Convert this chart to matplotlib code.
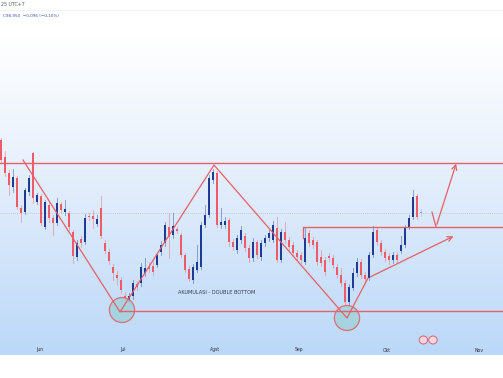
import numpy as np
import matplotlib.pyplot as plt
from matplotlib.colors import LinearSegmentedColormap
from matplotlib.patches import Ellipse

# daily candles (price units), oldest first
opens = [215, 198, 182, 168, 177, 147, 143, 163, 202, 153, 159, 128, 150, 137, 132, 151, 143, 142,
         123, 98, 116, 113, 139, 139, 131, 147, 112, 103, 88, 80, 75, 59, 53, 59, 71, 72, 82, 88,
         89, 90, 103, 112, 128, 120, 126, 120, 100, 86, 75, 85, 88, 130, 140, 175, 182, 130, 130,
         135, 113, 105, 115, 119, 107, 97, 113, 98, 112, 117, 115, 127, 95, 123, 115, 110, 102, 100,
         93, 122, 115, 113, 98, 95, 99, 97, 88, 80, 72, 53, 67, 82, 93, 80, 77, 100, 125, 112, 103,
         99, 95, 100, 104, 110, 128, 138, 159, 142]
highs = [217, 204, 185, 186, 179, 150, 167, 180, 203, 162, 161, 155, 152, 140, 157, 153, 155, 144,
         125, 115, 119, 141, 142, 145, 140, 159, 115, 106, 91, 84, 78, 63, 62, 75, 74, 92, 97, 93,
         93, 102, 114, 133, 142, 142, 128, 122, 102, 89, 91, 110, 133, 150, 180, 186, 184, 147, 138,
         137, 116, 120, 129, 122, 110, 117, 115, 115, 120, 125, 134, 138, 126, 133, 118, 113, 105, 103,
         128, 125, 118, 115, 105, 98, 102, 100, 91, 87, 75, 71, 87, 97, 96, 83, 103, 129, 128, 115, 106,
         102, 103, 103, 119, 130, 140, 165, 161, 146]
lows = [192, 179, 160, 163, 146, 133, 141, 160, 152, 151, 130, 126, 133, 120, 130, 142, 140, 125,
        92, 95, 108, 111, 135, 127, 129, 117, 102, 91, 75, 70, 62, 52, 51, 56, 65, 69, 79, 83,
        80, 88, 100, 109, 97, 117, 122, 98, 83, 74, 72, 83, 86, 128, 138, 172, 128, 127, 127,
        109, 105, 102, 112, 104, 93, 94, 97, 95, 109, 114, 113, 93, 93, 112, 105, 99, 95, 92,
        91, 109, 107, 90, 89, 80, 94, 87, 77, 69, 49, 50, 65, 79, 77, 73, 75, 98, 110, 100, 94,
        91, 92, 92, 102, 108, 126, 136, 136, 139]
closes = [195, 182, 170, 178, 148, 142, 165, 177, 157, 160, 132, 153, 137, 132, 152, 145, 146, 128,
          99, 112, 112, 137, 138, 136, 136, 119, 104, 94, 82, 77, 65, 55, 59, 72, 68, 88, 87, 86,
          83, 100, 110, 130, 118, 129, 124, 100, 85, 76, 88, 93, 130, 140, 177, 183, 130, 133, 134,
          113, 108, 117, 125, 107, 97, 113, 100, 112, 117, 122, 130, 95, 123, 115, 108, 102, 98, 95,
          117, 112, 110, 93, 92, 83, 97, 90, 80, 72, 53, 68, 82, 93, 80, 76, 100, 123, 113, 103, 97,
          95, 100, 95, 110, 127, 137, 158, 138, 142]

month_labels = ['Jun', 'Jul', 'Agst', 'Sep', 'Okt', 'Nov']
month_pos = [9.75, 30.5, 53.5, 74.5, 96.5, 119.5]

resistance = 192
support = 44
neckline = 128
last_price = 142

# pattern drawing: (candle index, price)
pattern_x = [5.5, 29.75, 53.25, 86.5, 91.75, 113.75]
pattern_y = [195, 43, 190, 37, 77, 120]
target_x = [107.75, 108.75, 114.0]
target_y = [143, 128, 194]

up_col = '#1f3a93'
dn_col = '#ee5a68'
line_col = '#e4606a'

fig = plt.figure(figsize=(5.03, 3.78), dpi=100)
ax = fig.add_axes([0, 23/378, 1, 355/378])
ax.set_xlim(-0.25, 125.5)
ax.set_ylim(0, 355)
ax.axis('off')

# background gradient
cmap = LinearSegmentedColormap.from_list('bg', [(0, '#ffffff'), (0.08, '#ffffff'),
                                                (0.45, '#e7f0fc'), (1, '#bbd8f8')])
grad = np.linspace(0, 1, 256).reshape(-1, 1)
ax.imshow(grad, extent=(-0.25, 125.5, 0, 345), cmap=cmap, aspect='auto', origin='upper', zorder=0)

# last price dotted line
ax.axhline(last_price, color='#b8c2d0', lw=0.6, ls=(0, (1, 1.5)), zorder=1)

# candles
for i in range(len(opens)):
    o, h, l, c = opens[i], highs[i], lows[i], closes[i]
    col = up_col if c >= o else dn_col
    if c == o:
        col = '#8fa6c8'
    ax.plot([i, i], [l, h], color=col, lw=0.6, alpha=0.5, zorder=2)
    ax.bar(i, max(abs(c - o), 1.5), bottom=min(o, c), width=0.7, color=col, zorder=3)

# horizontal levels
ax.axhline(resistance, color=line_col, lw=1.0, zorder=4)
ax.plot([29.75, 125.5], [support, support], color=line_col, lw=1.0, zorder=4)
ax.plot([75.5, 75.5, 125.5], [117, neckline, neckline], color=line_col, lw=1.0, zorder=4)

# double bottom zigzag and arrows
ax.plot(pattern_x[:-1], pattern_y[:-1], color=line_col, lw=0.9, zorder=4)
ax.annotate('', xy=(pattern_x[-1], pattern_y[-1]), xytext=(pattern_x[-2], pattern_y[-2]),
            arrowprops=dict(arrowstyle='->', color=line_col, lw=0.9, mutation_scale=9), zorder=4)
ax.plot(target_x[:-1], target_y[:-1], color=line_col, lw=0.9, zorder=4)
ax.annotate('', xy=(target_x[-1], target_y[-1]), xytext=(target_x[-2], target_y[-2]),
            arrowprops=dict(arrowstyle='->', color=line_col, lw=0.9, mutation_scale=9), zorder=4)

for cx, cy in [(30.25, 45), (86.5, 37)]:
    ax.add_patch(Ellipse((cx, cy), 6.3, 25, facecolor='#a3d2de', edgecolor=line_col, lw=0.9,
                         alpha=0.9, zorder=3.5))

ax.text(54.0, 63, 'AKUMULASI - DOUBLE BOTTOM', fontsize=3.6, color='#333a45',
        ha='center', va='center', zorder=5)

# event markers
for cx in [105.6, 108.0]:
    ax.add_patch(Ellipse((cx, 15), 2.1, 8, facecolor='#f3d6de', edgecolor='#d8506a', lw=0.6, zorder=5))

for lab, pos in zip(month_labels, month_pos):
    ax.text(pos, 5, lab, fontsize=3.3, color='#2a2e39', ha='center', va='center', zorder=5)

fig.text(0.002, 1 - 5/378, '25 UTC+7', fontsize=3.4, color='#555b66', ha='left', va='center')
fig.add_artist(plt.Line2D([0, 1], [1 - 10/378, 1 - 10/378], color='#eceff3', lw=0.5))
fig.text(0.006, 1 - 16/378, 'C98,950  \u22120,096 (\u22120,10%)', fontsize=3.0, color='#3d52b0',
         ha='left', va='center')

fig.savefig('out.png', dpi=100)
